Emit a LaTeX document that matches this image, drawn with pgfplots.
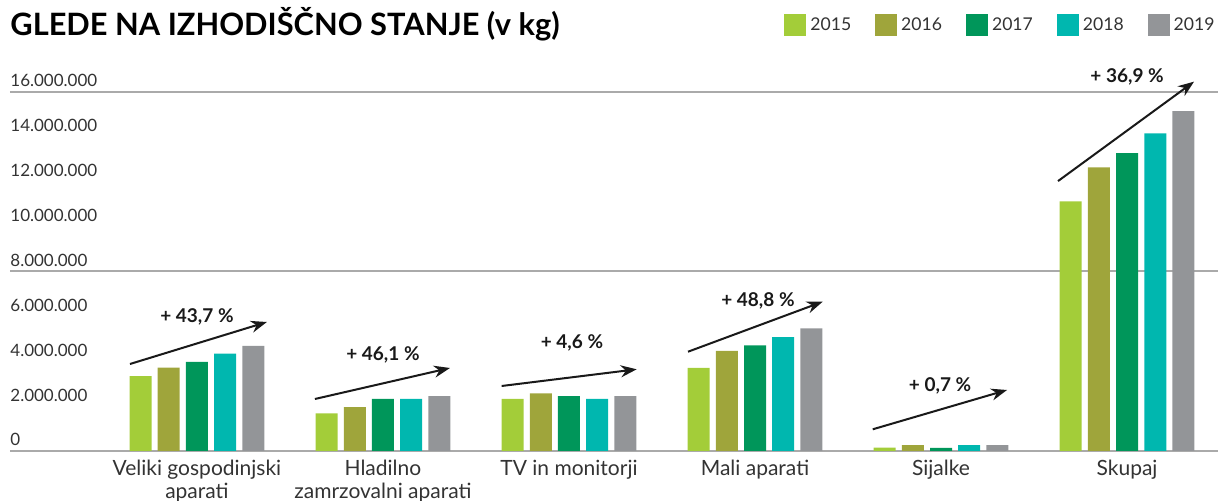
\documentclass[border=0pt]{standalone}
\usepackage{fontspec}
\setmainfont{Lato}
\usepackage{pgfplots}
\pgfplotsset{compat=1.18}
\usetikzlibrary{arrows.meta}
\definecolor{c15}{HTML}{A3CD39}
\definecolor{c16}{HTML}{9FA53B}
\definecolor{c17}{HTML}{00965A}
\definecolor{c18}{HTML}{00B7AF}
\definecolor{c19}{HTML}{939598}
\definecolor{txt}{HTML}{333333}
\definecolor{gridc}{HTML}{AAAAAA}
\begin{document}
\begin{tikzpicture}
\path[use as bounding box] (0,0) rectangle (609pt,250.5pt);
\node[anchor=base west, inner sep=0pt, text=black, font=\fontsize{15.4}{17}\selectfont\bfseries] at (5pt,232.5pt) {GLEDE NA IZHODIŠČNO STANJE (v kg)};
\begin{axis}[
  at={(5pt,25pt)}, anchor=south west,
  scale only axis, width=604pt, height=179.5pt,
  xmin=-1.005, xmax=5.489, ymin=0, ymax=16,
  clip=false,
  axis line style={draw=none},
  major tick length=0pt,
  ybar=3.1pt, bar width=11pt,
  xtick={0,1,2,3,4,5},
  xticklabels={{Veliki gospodinjski\\aparati},{Hladilno\\zamrzovalni aparati},{TV in monitorji},{Mali aparati},{Sijalke},{Skupaj}},
  xticklabel style={align=center, font=\fontsize{10.5}{11.5}\selectfont, text=txt, anchor=north, yshift=-1pt},
  ytick={0,2,4,6,8,10,12,14,16},
  yticklabels={0,2.000.000,4.000.000,6.000.000,8.000.000,10.000.000,12.000.000,14.000.000,16.000.000},
  yticklabel style={anchor=base west, inner xsep=0pt, yshift=2.5pt, font=\fontsize{8.5}{10}\selectfont, text=txt},
  extra y ticks={0,8,16}, extra y tick labels={},
  extra y tick style={grid=major, major grid style={draw=gridc, line width=1pt}},
  legend columns=5,
  legend style={draw=none, fill=none, inner sep=0pt, at={(axis description cs:0.6407,1.22)}, anchor=north west,
    font=\fontsize{8.8}{10}\selectfont, text=txt,
    /tikz/every even column/.append style={column sep=10pt}},
  legend image code/.code={\fill[#1] (0pt,-5.5pt) rectangle (11pt,5.5pt);},
]
\addplot[fill=c15, draw=none] coordinates {(0,3.34) (1,1.68) (2,2.32) (3,3.70) (4,0.15) (5,11.13)};
\addplot[fill=c16, draw=none] coordinates {(0,3.71) (1,1.95) (2,2.57) (3,4.46) (4,0.26) (5,12.64)};
\addplot[fill=c17, draw=none] coordinates {(0,3.97) (1,2.32) (2,2.45) (3,4.71) (4,0.14) (5,13.27)};
\addplot[fill=c18, draw=none] coordinates {(0,4.34) (1,2.32) (2,2.32) (3,5.08) (4,0.26) (5,14.16)};
\addplot[fill=c19, draw=none] coordinates {(0,4.69) (1,2.45) (2,2.45) (3,5.47) (4,0.26) (5,15.15)};
\legend{2015,2016,2017,2018,2019}
\begin{scope}[line width=1pt, -{Stealth[length=8pt,width=6pt]}, black!90]
\draw (axis cs:-0.360,3.877) -- (axis cs:0.376,5.749);
\draw (axis cs:0.634,2.317) -- (axis cs:1.360,3.699);
\draw (axis cs:1.638,2.897) -- (axis cs:2.364,3.641);
\draw (axis cs:2.640,4.425) -- (axis cs:3.364,6.654);
\draw (axis cs:3.633,0.967) -- (axis cs:4.355,2.719);
\draw (axis cs:4.629,12.03) -- (axis cs:5.360,16.46);
\end{scope}
\begin{scope}[every node/.style={font=\fontsize{9.5}{10}\selectfont\bfseries, text=black!90}]
\node at (axis cs:0,5.97) {+ 43,7 \%};
\node at (axis cs:1,4.28) {+ 46,1 \%};
\node at (axis cs:2.016,4.81) {+ 4,6 \%};
\node at (axis cs:3.016,6.685) {+ 48,8 \%};
\node at (axis cs:3.995,2.897) {+ 0,7 \%};
\node at (axis cs:5.0,16.67) {+ 36,9 \%};
\end{scope}
\end{axis}
\end{tikzpicture}
\end{document}
